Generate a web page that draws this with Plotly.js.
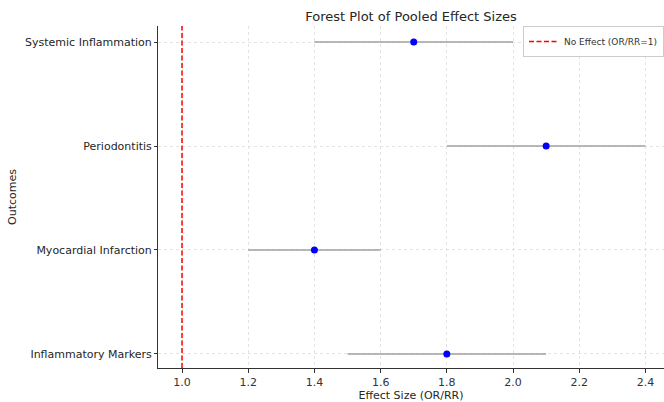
<!DOCTYPE html>
<html>
<head>
<meta charset="utf-8">
<script src="https://cdn.plot.ly/plotly-3.0.1.min.js"></script>
<style>html,body{margin:0;padding:0;background:#fff;}#chart{width:664px;height:402px;}</style>
</head>
<body>
<div id="chart"></div>
<script>
const outcomes = ["Inflammatory Markers", "Myocardial Infarction", "Periodontitis", "Systemic Inflammation"];
const effect = [1.8, 1.4, 2.1, 1.7];
const lower = [1.5, 1.2, 1.8, 1.4];
const upper = [2.1, 1.6, 2.4, 2.0];
const xTicks = [1.0, 1.2, 1.4, 1.6, 1.8, 2.0, 2.2, 2.4];
const nullValue = 1.0;

const pos = outcomes.map((_, i) => i);
const font = "DejaVu Sans, sans-serif";

const trace = {
  type: "scatter",
  mode: "markers",
  x: effect,
  y: pos,
  showlegend: false,
  marker: {color: "#0000ff", size: 7},
  error_x: {
    type: "data",
    symmetric: false,
    array: upper.map((u, i) => u - effect[i]),
    arrayminus: lower.map((l, i) => effect[i] - l),
    width: 0,
    thickness: 1.6,
    color: "#a0a0a0"
  },
  hoverinfo: "x+y"
};

const layout = {
  width: 664, height: 402,
  margin: {l: 158, r: 0, t: 26, b: 34, pad: 0},
  paper_bgcolor: "#fff", plot_bgcolor: "#fff",
  font: {family: font, color: "#262626", size: 11},
  title: {text: "Forest Plot of Pooled Effect Sizes", xref: "paper", x: 0.5, xanchor: "center",
          yref: "container", y: 0.96, yanchor: "middle",
          font: {family: font, size: 13, color: "#262626"}},
  xaxis: {
    range: [0.9275, 2.456],
    tickvals: xTicks, ticktext: xTicks.map(v => v.toFixed(1)),
    showgrid: true, gridcolor: "#dcdcdc", griddash: "dot", gridwidth: 0.8,
    zeroline: false, showline: true, linecolor: "#333", linewidth: 1,
    ticks: "outside", ticklen: 4, tickcolor: "#333",
    tickfont: {size: 11, color: "#333"},
    title: {text: "Effect Size (OR/RR)", font: {size: 11, color: "#262626"}, standoff: 2}
  },
  yaxis: {
    range: [-0.135, 3.154],
    tickvals: pos, ticktext: outcomes,
    showgrid: true, gridcolor: "#dcdcdc", griddash: "dot", gridwidth: 0.8,
    zeroline: false, showline: true, linecolor: "#333", linewidth: 1,
    ticks: "outside", ticklen: 3, tickcolor: "#333",
    tickfont: {size: 11, color: "#262626"},
    title: {text: "Outcomes", font: {size: 11, color: "#262626"}, standoff: 6}
  },
  shapes: [{
    type: "line", xref: "x", yref: "paper",
    x0: nullValue, x1: nullValue, y0: 0, y1: 1,
    line: {color: "#ff0000", width: 1.5, dash: "5px,2.5px"},
    showlegend: true, name: "No Effect (OR/RR=1)"
  }],
  legend: {
    x: 1, xanchor: "right", y: 1.0, yanchor: "top",
    bgcolor: "rgba(255,255,255,0.8)", bordercolor: "#cccccc", borderwidth: 1,
    font: {size: 9, color: "#333"},
    itemwidth: 30
  },
  showlegend: true
};

Plotly.newPlot("chart", [trace], layout, {displayModeBar: false, staticPlot: true});
</script>
</body>
</html>
